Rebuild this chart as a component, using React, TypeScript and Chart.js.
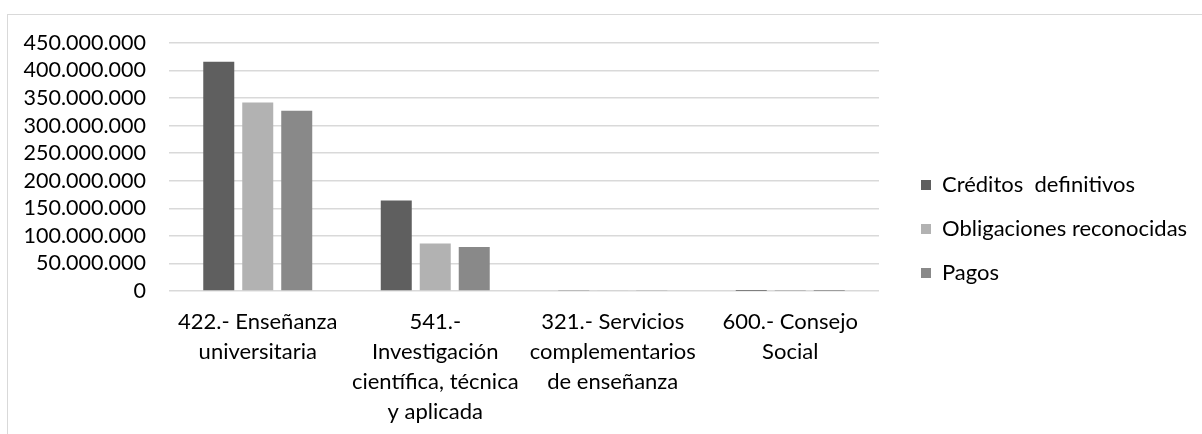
import React, { useEffect, useRef } from 'react';
import { Chart, registerables } from 'chart.js';

Chart.register(...registerables);

const categories: string[][] = [
  ['422.- Enseñanza', 'universitaria'],
  ['541.-', 'Investigación', 'científica, técnica', 'y aplicada'],
  ['321.- Servicios', 'complementarios', 'de enseñanza'],
  ['600.- Consejo', 'Social'],
];

const seriesNames = ['Créditos  definitivos', 'Obligaciones reconocidas', 'Pagos'];
const creditosDefinitivos = [416000000, 164000000, 1800000, 30000];
const obligacionesReconocidas = [342000000, 86000000, 1200000, 20000];
const pagos = [327000000, 80000000, 1000000, 20000];
const seriesColors = ['#5f5f5f', '#b2b2b2', '#898989'];

const yMin = 0;
const yMax = 450000000;
const yStep = 50000000;

const FONT = 'Lato';
const CANVAS_W = 1260;
const CANVAS_H = 420;
const PLOT_RIGHT = 871;
const GAP_W = 20;
const LEGEND_PAD = 22;
const LEGEND_BOX = 10;
const LEGEND_SIZE = 22;
const TOP_PAD = 28;

export default function App() {
  const ref = useRef<HTMLCanvasElement | null>(null);

  useEffect(() => {
    if (!ref.current) return;
    const ctx = ref.current.getContext('2d')!;
    ctx.font = `${LEGEND_SIZE}px ${FONT}`;
    const maxText = Math.max(...seriesNames.map((s) => ctx.measureText(s).width));
    const legendW = LEGEND_PAD + LEGEND_BOX + LEGEND_SIZE / 2 + maxText + 10;
    const padRight = Math.max(0, CANVAS_W - PLOT_RIGHT - GAP_W - legendW);

    const font = { family: FONT, size: 22, lineHeight: 1.36 };
    const chart = new Chart(ref.current, {
      type: 'bar',
      data: {
        labels: categories,
        datasets: [creditosDefinitivos, obligacionesReconocidas, pagos].map((d, i) => ({
          label: seriesNames[i],
          data: d,
          backgroundColor: seriesColors[i],
          borderWidth: 0,
          inflateAmount: 0,
          categoryPercentage: 0.659,
          barPercentage: 0.795,
        })),
      },
      options: {
        animation: false,
        responsive: false,
        devicePixelRatio: 1,
        layout: { padding: { top: TOP_PAD, left: 0, right: padRight, bottom: 0 } },
        plugins: {
          tooltip: { enabled: false },
          legend: {
            position: 'right',
            align: 'start',
            maxWidth: 1000,
            title: {
              display: true,
              text: '',
              font: { family: FONT, size: 10, lineHeight: 1 },
              padding: { top: 159 - TOP_PAD - LEGEND_PAD - 10, bottom: 0 },
            },
            labels: {
              font: { family: FONT, size: LEGEND_SIZE, lineHeight: 1.36 },
              color: '#000',
              boxWidth: LEGEND_BOX,
              boxHeight: LEGEND_BOX,
              padding: LEGEND_PAD,
            },
          },
        },
        scales: {
          x: {
            grid: { display: false, drawTicks: false },
            border: { display: false },
            ticks: {
              font,
              color: '#000',
              padding: 16,
              maxRotation: 0,
              minRotation: 0,
              autoSkip: false,
            },
            afterFit: (s: any) => {
              s.height = 144;
            },
          },
          y: {
            min: yMin,
            max: yMax,
            grid: { color: '#d9d9d9', lineWidth: 1.5, drawTicks: false },
            border: { display: false },
            ticks: {
              stepSize: yStep,
              autoSkip: false,
              font: { family: FONT, size: 21.5, lineHeight: 0.4 },
              color: '#000',
              padding: 23,
              callback: (v: any) => Number(v).toLocaleString('de-DE'),
            },
            afterFit: (s: any) => {
              s.width = 161;
            },
          },
          y2: {
            position: 'right',
            display: true,
            grid: { display: false, drawTicks: false },
            border: { display: false },
            ticks: { display: false },
            afterFit: (s: any) => {
              s.width = GAP_W;
            },
          },
        },
      },
    } as any);
    return () => chart.destroy();
  }, []);

  return (
    <div
      style={{
        position: 'fixed',
        left: 7,
        top: 14,
        border: '1px solid #d9d9d9',
        background: '#fff',
        width: CANVAS_W,
        height: CANVAS_H,
      }}
    >
      <canvas ref={ref} width={CANVAS_W} height={CANVAS_H} style={{ display: 'block' }} />
    </div>
  );
}
